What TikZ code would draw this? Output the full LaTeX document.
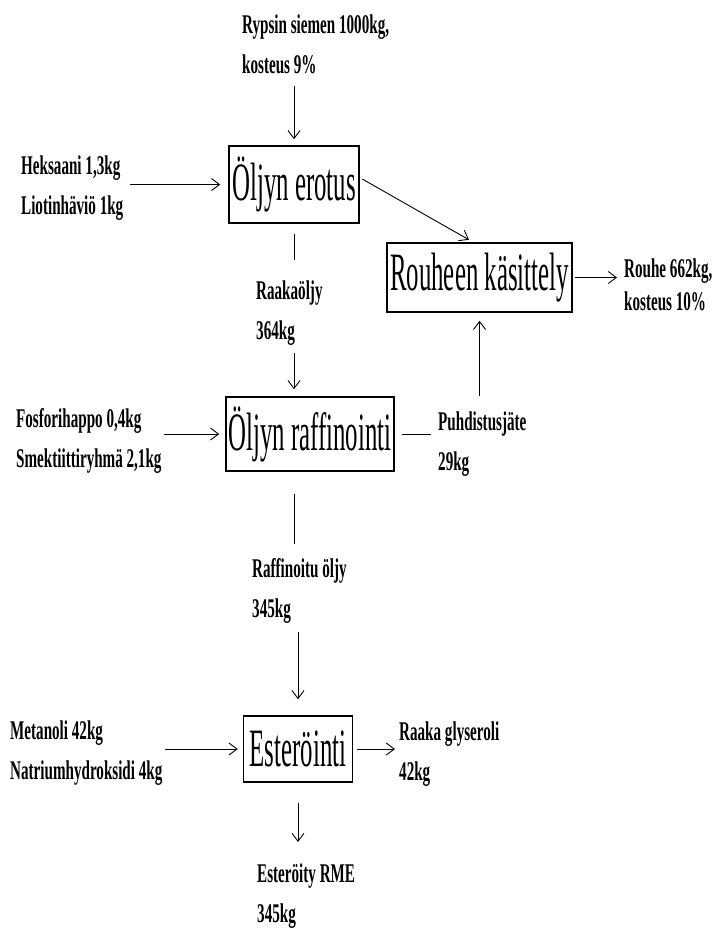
\documentclass[tikz,border=0pt]{standalone}
\usepackage{fontspec}
\setmainfont{Liberation Serif}
\newfontfamily\boxfont[FakeStretch=0.46]{Liberation Serif}
\newfontfamily\lblfont[FakeStretch=0.56]{Liberation Serif}
\usepackage{tikz}
\usetikzlibrary{arrows.meta}

\tikzset{
  box/.style={draw, line width=1.5pt, inner sep=0pt, font=\boxfont\fontsize{54}{60}\selectfont},
  lbl/.style={align=left, inner sep=0pt, anchor=base west, font=\lblfont\bfseries\fontsize{27}{40}\selectfont},
  arr/.style={-{Straight Barb[length=8pt,width=12pt]}, line width=0.9pt},
  ln/.style={line width=0.9pt},
}

\begin{document}
\begin{tikzpicture}[x=1pt, y=-1pt]
        \useasboundingbox (0,0) rectangle (719,929);
        % process steps
        \node[box, minimum width=130pt, minimum height=77pt] (erotus) at (294,184.5) {Öljyn erotus};
        \node[box, minimum width=185pt, minimum height=69pt] (rouheen) at (479.5,277.5) {Rouheen käsittely};
        \node[box, minimum width=168pt, minimum height=74pt] (raff) at (310,434) {Öljyn raffinointi};
        \node[box, minimum width=109pt, minimum height=66pt] (ester) at (298,749) {Esteröinti};
        % streams (anchored at the last line)
        \node[lbl] (rypsin) at (242,73) {Rypsin siemen 1000kg,\\kosteus 9\%};
        \node[lbl] (heksaani) at (21,214) {Heksaani 1,3kg\\Liotinhäviö 1kg};
        \node[lbl] (raakaoljy) at (256,339) {Raakaöljy\\364kg};
        \node[lbl] (rouhe) at (624,310) {Rouhe 662kg,\\[-7pt]kosteus 10\%};
        \node[lbl] (fosfori) at (16,467) {Fosforihappo 0,4kg\\Smektiittiryhmä 2,1kg};
        \node[lbl] (puhd) at (438,470) {Puhdistusjäte\\29kg};
        \node[lbl] (raffoljy) at (252,617) {Raffinoitu öljy\\345kg};
        \node[lbl] (metanoli) at (10,779) {Metanoli 42kg\\Natriumhydroksidi 4kg};
        \node[lbl] (glyseroli) at (399,780) {Raaka glyseroli\\42kg};
        \node[lbl] (rme) at (257,922) {Esteröity RME\\345kg};
        % flows
        \draw[arr, shorten <=12pt, shorten >=6pt] (rypsin.south -| erotus.north) -- (erotus.north);
        \draw[arr, shorten <=7pt, shorten >=8pt] (heksaani.east |- erotus.west) -- (erotus.west);
        \draw[arr, shorten <=3pt, shorten >=5pt] (erotus.6) -- (rouheen.100);
        \draw[ln, shorten <=10pt, shorten >=20pt] (erotus.south) -- (raakaoljy.north -| erotus.south);
        \draw[arr, shorten <=8pt, shorten >=7pt] (raakaoljy.south -| erotus.south) -- (raff.north -| erotus.south);
        \draw[arr, shorten <=2pt, shorten >=7pt] (rouheen.east) -- (rouhe.west |- rouheen.east);
        \draw[arr, shorten <=2pt, shorten >=6pt] (fosfori.east |- raff.west) -- (raff.west);
        \draw[ln, shorten <=7pt, shorten >=7pt] (raff.east) -- (puhd.west |- raff.east);
        \draw[arr, shorten <=15pt, shorten >=8pt] (puhd.north -| rouheen.south) -- (rouheen.south);
        \draw[ln, shorten <=22pt, shorten >=14pt] (raff.south -| erotus.south) -- (raffoljy.north -| erotus.south);
        \draw[arr, shorten <=9pt, shorten >=16pt] (raffoljy.south -| ester.north) -- (ester.north);
        \draw[arr, shorten <=2pt, shorten >=5pt] (metanoli.east |- ester.west) -- (ester.west);
        \draw[arr, shorten <=4pt, shorten >=4pt] (ester.east) -- (glyseroli.west |- ester.east);
        \draw[arr, shorten <=20pt, shorten >=21pt] (ester.south) -- (rme.north -| ester.south);
    \end{tikzpicture}
\end{document}
